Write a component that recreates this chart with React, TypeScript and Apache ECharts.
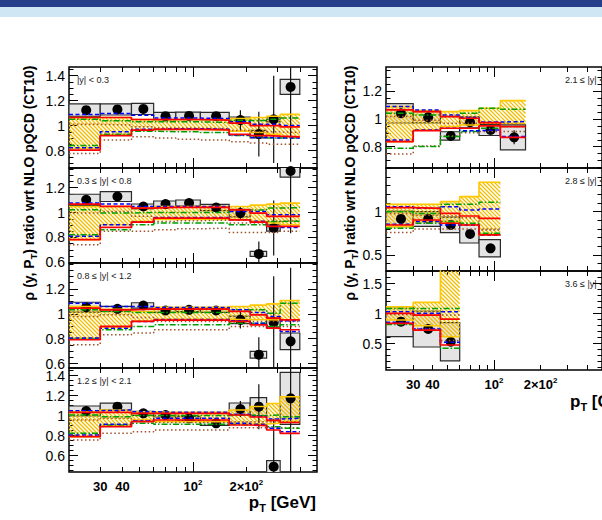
import React, { useEffect, useRef } from "react";
import * as echarts from "echarts";

const FONT = "'Liberation Sans', Arial, Helvetica, sans-serif";

// pT bins [GeV]
const binEdges = [20, 30, 45, 60, 80, 110, 160, 210, 260, 310, 400];
const binCenters = [25, 37.5, 52.5, 70, 95, 135, 185, 235, 285, 355];
const xRange = [20, 500];
const xMinorTicks = [30, 40, 50, 60, 70, 80, 90, 200, 300, 400];
const xMajorTicks = [100];
const xTickLabels = [30, 40, 100, 200];

const panelLabels = [
  "|y| < 0.3",
  "0.3 \u2264 |y| < 0.8",
  "0.8 \u2264 |y| < 1.2",
  "1.2 \u2264 |y| < 2.1",
  "2.1 \u2264 |y| < 2.8",
  "2.8 \u2264 |y| < 3.6",
  "3.6 \u2264 |y| < 4.4",
];

// y tick labels per panel
const L1_yTicks = [0.8, 1, 1.2, 1.4];
const L2_yTicks = [0.6, 0.8, 1, 1.2];
const L3_yTicks = [0.6, 0.8, 1, 1.2];
const L4_yTicks = [0.6, 0.8, 1, 1.2, 1.4];
const R1_yTicks = [0.8, 1, 1.2];
const R2_yTicks = [0.5, 1];
const R3_yTicks = [0.5, 1, 1.5];

// ---------- |y| < 0.3 ----------
const L1_ratio = [1.124, 1.13, 1.134, 1.076, 1.078, 1.076, 1.044, 0.932, 1.05, 1.31];
const L1_stat = [0.008, 0.008, 0.01, 0.01, 0.012, 0.015, 0.08, 0.18, 0.35, 0.6];
const L1_sys = [0.05, 0.045, 0.045, 0.03, 0.03, 0.03, 0.025, 0.03, 0.02, 0.06];
const L1_yelHi = [1.065, 1.065, 1.049, 1.049, 1.049, 1.05, 1.057, 1.065, 1.075, 1.09];
const L1_yelLo = [0.817, 0.924, 0.964, 0.97, 0.97, 0.965, 0.955, 0.945, 0.93, 0.91];
const L1_redHi = [1.065, 1.065, 1.049, 1.049, 1.049, 1.044, 1.02, 1.0, 1.0, 0.99];
const L1_redLo = [0.804, 0.92, 0.964, 0.97, 0.97, 0.965, 0.93, 0.92, 0.915, 0.91];
const L1_bluHi = [1.089, 1.097, 1.084, 1.06, 1.06, 1.057, 1.03, 1.01, 1.01, 1.0];
const L1_bluLo = [0.823, 0.95, 0.97, 0.975, 0.975, 0.97, 0.925, 0.905, 0.9, 0.9];
const L1_grnHi = [1.05, 1.039, 1.03, 1.03, 1.03, 1.025, 1.04, 1.04, 1.05, 1.06];
const L1_grnLo = [0.84, 0.93, 0.955, 0.951, 0.951, 0.945, 0.92, 0.91, 0.9, 0.9];
const L1_brnHi = [1.01, 1.005, 0.99, 0.98, 0.98, 0.975, 0.96, 0.95, 0.95, 0.945];
const L1_brnLo = [0.777, 0.884, 0.911, 0.9, 0.89, 0.884, 0.87, 0.86, 0.85, 0.85];

// ---------- 0.3 <= |y| < 0.8 ----------
const L2_ratio = [1.102, 1.129, 1.049, 1.068, 1.076, 1.041, 0.996, 0.668, 0.876, 1.334];
const L2_stat = [0.008, 0.008, 0.01, 0.01, 0.01, 0.015, 0.05, 0.1, 0.22, 0.5];
const L2_sys = [0.045, 0.04, 0.02, 0.025, 0.025, 0.025, 0.03, 0.02, 0.025, 0.05];
const L2_yelHi = [1.049, 1.049, 1.036, 1.049, 1.049, 1.049, 1.05, 1.06, 1.068, 1.076];
const L2_yelLo = [0.782, 0.902, 0.929, 0.945, 0.945, 0.945, 0.942, 0.93, 0.916, 0.902];
const L2_redHi = [1.068, 1.049, 1.036, 1.041, 1.041, 1.041, 1.022, 0.996, 0.969, 0.969];
const L2_redLo = [0.782, 0.881, 0.924, 0.956, 0.956, 0.956, 0.942, 0.924, 0.889, 0.889];
const L2_bluHi = [1.076, 1.068, 1.049, 1.049, 1.049, 1.049, 1.009, 1.009, 0.982, 0.982];
const L2_bluLo = [0.809, 0.902, 0.924, 0.961, 0.961, 0.961, 0.942, 0.93, 0.889, 0.881];
const L2_grnHi = [1.022, 0.996, 1.0, 1.0, 1.0, 1.0, 1.022, 1.02, 1.036, 1.04];
const L2_grnLo = [0.822, 0.862, 0.902, 0.916, 0.916, 0.916, 0.902, 0.902, 0.929, 0.93];
const L2_brnHi = [0.996, 1.009, 0.97, 0.929, 0.935, 0.94, 0.916, 0.916, 0.93, 0.935];
const L2_brnLo = [0.742, 0.849, 0.849, 0.862, 0.87, 0.875, 0.84, 0.84, 0.84, 0.849];

// ---------- 0.8 <= |y| < 1.2 ----------
const L3_ratio = [1.053, 1.04, 1.067, 1.027, 1.032, 1.027, 0.952, 0.672, 0.931, 0.779];
const L3_stat = [0.008, 0.008, 0.01, 0.01, 0.01, 0.012, 0.07, 0.14, 0.37, 0.59];
const L3_sys = [0.04, 0.02, 0.022, 0.015, 0.015, 0.015, 0.03, 0.027, 0.037, 0.067];
const L3_yelHi = [1.059, 1.037, 1.019, 1.053, 1.053, 1.053, 1.059, 1.07, 1.08, 1.107];
const L3_yelLo = [0.805, 0.891, 0.941, 0.955, 0.955, 0.955, 0.952, 0.952, 0.95, 0.952];
const L3_redHi = [1.045, 1.032, 1.037, 1.037, 1.037, 1.037, 1.019, 0.992, 0.965, 0.952];
const L3_redLo = [0.792, 0.899, 0.939, 0.95, 0.95, 0.95, 0.939, 0.912, 0.885, 0.872];
const L3_bluHi = [1.085, 1.059, 1.059, 1.05, 1.05, 1.05, 1.032, 1.011, 0.979, 0.944];
const L3_bluLo = [0.805, 0.885, 0.939, 0.955, 0.955, 0.955, 0.945, 0.925, 0.885, 0.859];
const L3_grnHi = [1.032, 1.019, 1.01, 1.01, 1.01, 1.01, 1.032, 1.032, 1.005, 1.085];
const L3_grnLo = [0.797, 0.872, 0.899, 0.912, 0.912, 0.912, 0.925, 0.925, 0.899, 0.912];
const L3_brnHi = [0.979, 0.992, 0.97, 0.939, 0.939, 0.939, 0.939, 0.939, 0.939, 0.939];
const L3_brnLo = [0.752, 0.832, 0.845, 0.872, 0.872, 0.872, 0.899, 0.899, 0.899, 0.899];

// ---------- 1.2 <= |y| < 2.1 ----------
const L4_ratio = [1.045, 1.088, 1.022, 1.005, 0.972, 0.922, 1.065, 1.088, 0.488, 1.172];
const L4_stat = [0.008, 0.008, 0.01, 0.01, 0.01, 0.015, 0.08, 0.225, 0.48, 1.0];
const L4_sys = [0.05, 0.035, 0.02, 0.02, 0.02, 0.02, 0.06, 0.09, 0.06, 0.26];
const L4_yelHi = [1.038, 1.055, 1.038, 1.032, 1.032, 1.032, 1.055, 1.09, 1.12, 1.188];
const L4_yelLo = [0.788, 0.905, 0.955, 0.938, 0.938, 0.938, 0.922, 0.915, 0.922, 0.94];
const L4_redHi = [1.032, 1.032, 1.022, 1.022, 1.022, 1.022, 1.005, 0.985, 0.952, 0.93];
const L4_redLo = [0.788, 0.888, 0.938, 0.955, 0.955, 0.955, 0.905, 0.898, 0.855, 0.822];
const L4_bluHi = [1.048, 1.055, 1.038, 1.032, 1.032, 1.032, 1.012, 0.99, 0.965, 0.972];
const L4_bluLo = [0.805, 0.912, 0.945, 0.972, 0.972, 0.972, 0.922, 0.912, 0.872, 0.838];
const L4_grnHi = [1.005, 0.988, 1.0, 1.0, 1.0, 1.0, 1.005, 0.998, 1.005, 0.988];
const L4_grnLo = [0.822, 0.905, 0.922, 0.912, 0.912, 0.912, 0.905, 0.905, 0.888, 0.872];
const L4_brnHi = [0.955, 0.972, 0.95, 0.93, 0.93, 0.93, 0.938, 0.938, 0.938, 0.938];
const L4_brnLo = [0.755, 0.822, 0.838, 0.855, 0.855, 0.855, 0.878, 0.878, 0.878, 0.878];

// ---------- 2.1 <= |y| < 2.8 ----------
const R1_ratio = [1.041, 1.012, 0.878, 0.976, 0.921, 0.868];
const R1_stat = [0.005, 0.005, 0.008, 0.01, 0.015, 0.05];
const R1_sys = [0.07, 0.04, 0.03, 0.04, 0.04, 0.09];
const R1_yelHi = [1.089, 1.06, 1.053, 1.06, 1.077, 1.132];
const R1_yelLo = [0.837, 0.921, 0.945, 0.957, 0.969, 0.969];
const R1_redHi = [1.065, 1.053, 1.017, 1.005, 0.974, 0.945];
const R1_redLo = [0.837, 0.916, 0.933, 0.933, 0.95, 0.868];
const R1_bluHi = [1.089, 1.065, 1.029, 1.01, 0.978, 0.981];
const R1_bluLo = [0.849, 0.921, 0.933, 0.916, 0.921, 0.873];
const R1_grnHi = [1.041, 1.029, 1.017, 1.041, 1.077, 1.07];
const R1_grnLo = [0.789, 0.801, 0.873, 0.909, 0.933, 0.945];
const R1_brnHi = [1.017, 0.99, 0.97, 0.97, 0.965, 0.96];
const R1_brnLo = [0.748, 0.806, 0.878, 0.9, 0.91, 0.91];

// ---------- 2.8 <= |y| < 3.6 ----------
const R2_ratio = [0.916, 0.916, 0.847, 0.743, 0.577];
const R2_stat = [0.005, 0.005, 0.008, 0.02, 0.04];
const R2_sys = [0.09, 0.085, 0.09, 0.105, 0.1];
const R2_yelHi = [1.085, 1.085, 1.116, 1.173, 1.339];
const R2_yelLo = [0.827, 0.885, 0.885, 0.846, 0.731];
const R2_redHi = [1.046, 1.039, 0.98, 0.95, 0.923];
const R2_redLo = [0.846, 0.904, 0.866, 0.846, 0.731];
const R2_bluHi = [1.058, 1.039, 1.058, 1.019, 1.031];
const R2_bluLo = [0.854, 0.885, 0.846, 0.846, 0.731];
const R2_grnHi = [1.0, 0.98, 1.085, 1.085, 1.108];
const R2_grnLo = [0.808, 0.866, 0.885, 0.866, 0.75];
const R2_brnHi = [0.98, 0.96, 0.95, 0.93, 0.8];
const R2_brnLo = [0.758, 0.8, 0.8, 0.8, 0.789];

// ---------- 3.6 <= |y| < 4.4 ----------
const R3_ratio = [0.864, 0.742, 0.53];
const R3_stat = [0.01, 0.02, 0.05];
const R3_sys = [0.25, 0.3, 0.32];
const R3_yelHi = [1.114, 1.186, 1.742];
const R3_yelLo = [0.892, 0.797, 0.614];
const R3_redHi = [1.003, 0.975, 0.908];
const R3_redLo = [0.836, 0.725, 0.475];
const R3_bluHi = [1.031, 1.003, 1.031];
const R3_bluLo = [0.853, 0.742, 0.519];
const R3_grnHi = [1.086, 1.086, 1.086];
const R3_grnLo = [0.819, 0.725, 0.42];
const R3_brnHi = [0.986, 0.975, 0.975];
const R3_brnLo = [0.836, 0.75, 0.55];

const panels = [
  { ratio: L1_ratio, stat: L1_stat, sys: L1_sys, yelHi: L1_yelHi, yelLo: L1_yelLo, redHi: L1_redHi, redLo: L1_redLo, bluHi: L1_bluHi, bluLo: L1_bluLo, grnHi: L1_grnHi, grnLo: L1_grnLo, brnHi: L1_brnHi, brnLo: L1_brnLo, yTicks: L1_yTicks },
  { ratio: L2_ratio, stat: L2_stat, sys: L2_sys, yelHi: L2_yelHi, yelLo: L2_yelLo, redHi: L2_redHi, redLo: L2_redLo, bluHi: L2_bluHi, bluLo: L2_bluLo, grnHi: L2_grnHi, grnLo: L2_grnLo, brnHi: L2_brnHi, brnLo: L2_brnLo, yTicks: L2_yTicks },
  { ratio: L3_ratio, stat: L3_stat, sys: L3_sys, yelHi: L3_yelHi, yelLo: L3_yelLo, redHi: L3_redHi, redLo: L3_redLo, bluHi: L3_bluHi, bluLo: L3_bluLo, grnHi: L3_grnHi, grnLo: L3_grnLo, brnHi: L3_brnHi, brnLo: L3_brnLo, yTicks: L3_yTicks },
  { ratio: L4_ratio, stat: L4_stat, sys: L4_sys, yelHi: L4_yelHi, yelLo: L4_yelLo, redHi: L4_redHi, redLo: L4_redLo, bluHi: L4_bluHi, bluLo: L4_bluLo, grnHi: L4_grnHi, grnLo: L4_grnLo, brnHi: L4_brnHi, brnLo: L4_brnLo, yTicks: L4_yTicks },
  { ratio: R1_ratio, stat: R1_stat, sys: R1_sys, yelHi: R1_yelHi, yelLo: R1_yelLo, redHi: R1_redHi, redLo: R1_redLo, bluHi: R1_bluHi, bluLo: R1_bluLo, grnHi: R1_grnHi, grnLo: R1_grnLo, brnHi: R1_brnHi, brnLo: R1_brnLo, yTicks: R1_yTicks },
  { ratio: R2_ratio, stat: R2_stat, sys: R2_sys, yelHi: R2_yelHi, yelLo: R2_yelLo, redHi: R2_redHi, redLo: R2_redLo, bluHi: R2_bluHi, bluLo: R2_bluLo, grnHi: R2_grnHi, grnLo: R2_grnLo, brnHi: R2_brnHi, brnLo: R2_brnLo, yTicks: R2_yTicks },
  { ratio: R3_ratio, stat: R3_stat, sys: R3_sys, yelHi: R3_yelHi, yelLo: R3_yelLo, redHi: R3_redHi, redLo: R3_redLo, bluHi: R3_bluHi, bluLo: R3_bluLo, grnHi: R3_grnHi, grnLo: R3_grnLo, brnHi: R3_brnHi, brnLo: R3_brnLo, yTicks: R3_yTicks },
];

// layout (pixels) and axis ranges
const layout = [
  { left: 69, top: 67, height: 101, yMin: 0.66, yMax: 1.47, minor: 0.05, labelX: 8, xLabels: false, fs: 14 },
  { left: 69, top: 168, height: 95, yMin: 0.595, yMax: 1.358, minor: 0.05, labelX: 8, xLabels: false, fs: 14 },
  { left: 69, top: 263, height: 105, yMin: 0.565, yMax: 1.408, minor: 0.05, labelX: 8, xLabels: false, fs: 14 },
  { left: 69, top: 368, height: 104, yMin: 0.435, yMax: 1.475, minor: 0.05, labelX: 8, xLabels: true, fs: 14 },
  { left: 386, top: 67, height: 101, yMin: 0.647, yMax: 1.374, minor: 0.05, labelX: 179, xLabels: false, fs: 14 },
  { left: 386, top: 168, height: 103, yMin: 0.315, yMax: 1.504, minor: 0.1, labelX: 179, xLabels: false, fs: 14 },
  { left: 386, top: 271, height: 99, yMin: 0.058, yMax: 1.71, minor: 0.1, labelX: 179, xLabels: true, fs: 14 },
];
const PANEL_W = 248;

const lg = (v: number) => Math.log10(v);

function renderBox(params: any, api: any) {
  const a = api.coord([api.value(0), api.value(3)]);
  const b = api.coord([api.value(1), api.value(2)]);
  return {
    type: "rect",
    shape: { x: a[0], y: a[1], width: b[0] - a[0], height: b[1] - a[1] },
    style: { fill: "#e4e4e4", stroke: "#2b2b2b", lineWidth: 1.2 },
  };
}

function renderHatch(params: any, api: any) {
  const a = api.coord([api.value(0), api.value(3)]);
  const b = api.coord([api.value(1), api.value(2)]);
  const cs = params.coordSys;
  const x0 = a[0], x1 = b[0];
  const y0 = Math.max(a[1], cs.y), y1 = Math.min(b[1], cs.y + cs.height);
  const s = 4;
  const children: any[] = [];
  if (y1 > y0) {
    const cStart = Math.ceil((x0 - y1) / s) * s;
    for (let c = cStart; c <= x1 - y0; c += s) {
      const ya = Math.max(y0, x0 - c);
      const yb = Math.min(y1, x1 - c);
      if (yb > ya) {
        children.push({
          type: "line",
          shape: { x1: ya + c, y1: ya, x2: yb + c, y2: yb },
          style: { stroke: "#f2bd00", lineWidth: 1.3 },
        });
      }
    }
  }
  return { type: "group", children };
}

function renderErr(params: any, api: any) {
  const a = api.coord([api.value(0), api.value(2)]);
  const b = api.coord([api.value(0), api.value(1)]);
  return {
    type: "line",
    shape: { x1: a[0], y1: a[1], x2: b[0], y2: b[1] },
    style: { stroke: "#111", lineWidth: 1.2 },
  };
}

function fmtX(v: number) {
  const p = Math.round(Math.pow(10, v));
  if (p === 100) return "10{sup|2}";
  if (p === 200) return "2\u00d710{sup|2}";
  return String(p);
}

function buildOption() {
  const grid: any[] = [];
  const xAxis: any[] = [];
  const yAxis: any[] = [];
  const series: any[] = [];
  const graphic: any[] = [];

  graphic.push({ type: "rect", shape: { x: 0, y: 0, width: 602, height: 7 }, style: { fill: "#253f8b" }, silent: true });
  graphic.push({ type: "rect", shape: { x: 0, y: 7, width: 602, height: 10 }, style: { fill: "#cfe6f5" }, silent: true });

  panels.forEach((p, i) => {
    const L = layout[i];
    const n = p.ratio.length;
    grid.push({
      left: L.left, top: L.top, width: PANEL_W, height: L.height,
      show: true, borderColor: "#000", borderWidth: 1.5, backgroundColor: "transparent",
    });
    const xBase = {
      type: "value", gridIndex: i, min: lg(xRange[0]), max: lg(xRange[1]),
      axisLine: { show: false }, splitLine: { show: false },
    };
    const tickStyle = { color: "#000", width: 1 };
    const minorX = { inside: true, length: 5, customValues: xMinorTicks.map(lg), lineStyle: tickStyle };
    const majorX = { inside: true, length: 10, customValues: xMajorTicks.map(lg), lineStyle: tickStyle };
    xAxis.push({
      ...xBase, position: "bottom", axisTick: minorX,
      axisLabel: L.xLabels
        ? {
            customValues: xTickLabels.map(lg), formatter: fmtX, fontSize: 13, fontWeight: "bold",
            fontFamily: FONT, color: "#000", margin: 6, lineHeight: 16,
            rich: { sup: { fontSize: 8, fontWeight: "bold", fontFamily: FONT, color: "#000", verticalAlign: "top" } },
          }
        : { show: false },
    });
    xAxis.push({ ...xBase, position: "bottom", axisTick: majorX, axisLabel: { show: false } });
    xAxis.push({ ...xBase, position: "top", axisTick: minorX, axisLabel: { show: false } });
    xAxis.push({ ...xBase, position: "top", axisTick: majorX, axisLabel: { show: false } });

    const minorY: number[] = [];
    for (let k = Math.ceil(L.yMin / L.minor - 1e-6); k * L.minor <= L.yMax + 1e-6; k++) minorY.push(+(k * L.minor).toFixed(4));
    const yBase = {
      type: "value", gridIndex: i, min: L.yMin, max: L.yMax,
      axisLine: { show: false }, splitLine: { show: false },
    };
    yAxis.push({
      ...yBase, position: "left",
      axisTick: { inside: true, length: 9, customValues: p.yTicks, lineStyle: tickStyle },
      axisLabel: { customValues: p.yTicks, fontSize: L.fs, fontFamily: FONT, color: "#000", margin: 4 },
    });
    yAxis.push({ ...yBase, position: "left", axisTick: { inside: true, length: 4.5, customValues: minorY, lineStyle: tickStyle }, axisLabel: { show: false } });
    yAxis.push({ ...yBase, position: "right", axisTick: { inside: true, length: 9, customValues: p.yTicks, lineStyle: tickStyle }, axisLabel: { show: false } });
    yAxis.push({ ...yBase, position: "right", axisTick: { inside: true, length: 4.5, customValues: minorY, lineStyle: tickStyle }, axisLabel: { show: false } });

    const xi = i * 4;
    const yi = i * 4;
    const edges = binEdges.slice(0, n + 1);
    const centers = binCenters.slice(0, n);
    const stepData = (vals: number[]) => edges.map((e, k) => [lg(e), vals[Math.min(k, n - 1)]]);

    series.push({
      type: "custom", xAxisIndex: xi, yAxisIndex: yi, clip: true, silent: true,
      renderItem: renderBox, encode: { x: [0, 1], y: [2, 3] },
      data: centers.map((c, k) => [lg(edges[k]), lg(edges[k + 1]), p.ratio[k] - p.sys[k], p.ratio[k] + p.sys[k]]),
    });
    series.push({
      type: "custom", xAxisIndex: xi, yAxisIndex: yi, clip: true, silent: true,
      renderItem: renderHatch, encode: { x: [0, 1], y: [2, 3] },
      data: centers.map((c, k) => [lg(edges[k]), lg(edges[k + 1]), p.yelLo[k], p.yelHi[k]]),
    });
    const stepLine = (vals: number[], color: string, width: number, type: any) => ({
      type: "line", xAxisIndex: xi, yAxisIndex: yi, step: "end", data: stepData(vals),
      showSymbol: false, symbol: "none", silent: true, clip: true,
      lineStyle: { color, width, type, opacity: 1 },
    });
    series.push(stepLine(p.yelHi, "#ffc800", 1.6, "solid"));
    series.push(stepLine(p.yelLo, "#ffc800", 1.6, "solid"));
    series.push(stepLine(p.brnHi, "#a0522d", 1.5, [1.5, 2.5]));
    series.push(stepLine(p.brnLo, "#a0522d", 1.5, [1.5, 2.5]));
    series.push(stepLine(p.grnHi, "#00a000", 1.5, [6, 2, 1.5, 2]));
    series.push(stepLine(p.grnLo, "#00a000", 1.5, [6, 2, 1.5, 2]));
    series.push(stepLine(p.bluHi, "#0000ff", 1.5, [4, 2.5]));
    series.push(stepLine(p.bluLo, "#0000ff", 1.5, [4, 2.5]));
    series.push(stepLine(p.redHi, "#ff0000", 1.7, "solid"));
    series.push(stepLine(p.redLo, "#ff0000", 1.7, "solid"));
    series.push({
      type: "custom", xAxisIndex: xi, yAxisIndex: yi, clip: true, silent: true,
      renderItem: renderErr, encode: { x: 0, y: [1, 2] },
      data: centers.map((c, k) => [lg(c), p.ratio[k] - p.stat[k], p.ratio[k] + p.stat[k]]),
    });
    series.push({
      type: "scatter", xAxisIndex: xi, yAxisIndex: yi, silent: true, clip: true,
      symbol: "circle", symbolSize: 10, itemStyle: { color: "#000", opacity: 1 },
      data: centers.map((c, k) => [lg(c), p.ratio[k]]),
    });

    graphic.push({
      type: "text", x: L.left + L.labelX, y: L.top + 13, silent: true,
      style: { text: panelLabels[i], font: `9px ${FONT}`, fill: "#222", verticalAlign: "middle", align: "left" },
    });
  });

  const yTitle = "\u03c1 (y, P{sub|T}) ratio wrt NLO pQCD (CT10)";
  const subRich = { sub: { fontSize: 9, fontWeight: "bold", fontFamily: FONT, fill: "#000", verticalAlign: "bottom" } };
  graphic.push({
    type: "text", x: 29, y: 183, rotation: Math.PI / 2, silent: true,
    style: { text: yTitle, font: `bold 14px ${FONT}`, fill: "#000", align: "center", verticalAlign: "middle", lineHeight: 18, rich: subRich },
  });
  graphic.push({
    type: "text", x: 350, y: 183, rotation: Math.PI / 2, silent: true,
    style: { text: yTitle, font: `bold 14px ${FONT}`, fill: "#000", align: "center", verticalAlign: "middle", lineHeight: 18, rich: subRich },
  });
  const xTitle = "p{sub|T} [GeV]";
  const xSubRich = { sub: { fontSize: 11, fontWeight: "bold", fontFamily: FONT, fill: "#000", verticalAlign: "bottom" } };
  graphic.push({
    type: "text", x: 316, y: 502, silent: true,
    style: { text: xTitle, font: `bold 17px ${FONT}`, fill: "#000", align: "right", verticalAlign: "middle", lineHeight: 22, rich: xSubRich },
  });
  graphic.push({
    type: "text", x: 570, y: 401, silent: true,
    style: { text: xTitle, font: `bold 17px ${FONT}`, fill: "#000", align: "left", verticalAlign: "middle", lineHeight: 22, rich: xSubRich },
  });

  return {
    animation: false,
    backgroundColor: "#ffffff",
    textStyle: { fontFamily: FONT },
    grid, xAxis, yAxis, series, graphic,
  };
}

export default function App() {
  const ref = useRef<HTMLDivElement>(null);
  useEffect(() => {
    if (!ref.current) return;
    const chart = echarts.init(ref.current, null, { renderer: "svg" });
    chart.setOption(buildOption() as any);
    return () => chart.dispose();
  }, []);
  return (
    <div
      ref={ref}
      style={{ position: "fixed", left: 0, top: 0, width: 602, height: 520, background: "#fff" }}
    />
  );
}
